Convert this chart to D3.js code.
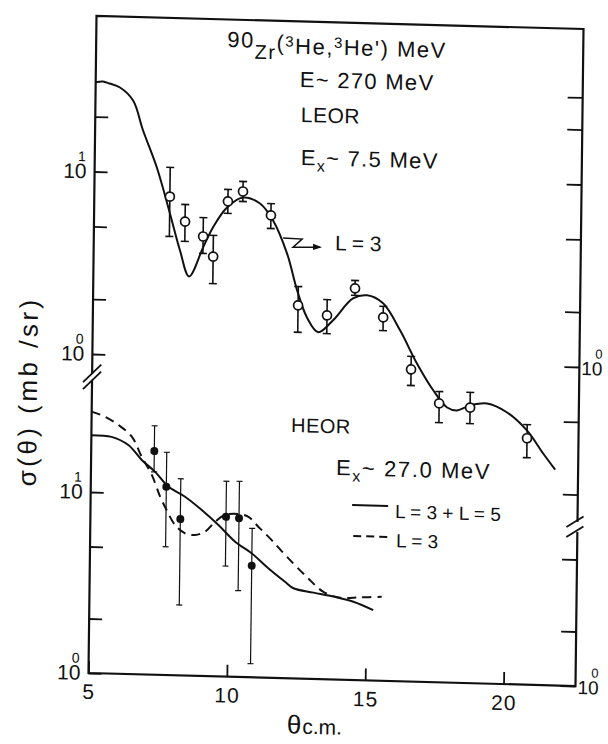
<!DOCTYPE html>
<html>
<head>
<meta charset="utf-8">
<script src="https://cdn.jsdelivr.net/npm/d3@7"></script>
<style>
body { margin: 0; background: #fff; }
text { font-family: "Liberation Sans", Arial, sans-serif; fill: #111; }
</style>
</head>
<body>
<svg id="chart"></svg>
<script>
// upper panel: LEOR, Ex ~ 7.5 MeV (open circles + L=3 fit)
var leorTheta = [7.73, 8.29, 8.95, 9.32, 9.83, 10.37, 11.39, 12.41, 13.46, 14.46, 15.49, 16.52, 17.55, 18.67, 20.74];
var leorSigma = [7.48, 5.48, 4.57, 3.56, 7.17, 8.17, 6.1, 1.98, 1.76, 2.50, 1.75, 0.916, 0.603, 0.578, 0.40];
var leorLow   = [4.52, 4.27, 3.69, 2.53, 6.17, 7.2, 5.17, 1.41, 1.40, 2.29, 1.48, 0.748, 0.473, 0.472, 0.313];
var leorHigh  = [10.8, 6.8, 5.8, 4.65, 8.34, 9.27, 7.08, 2.51, 2.15, 2.76, 2.01, 1.08, 0.70, 0.70, 0.475];

var leorFitTheta = [5.0, 5.26, 5.5, 5.88, 6.36, 6.73, 7.25, 7.74, 8.12, 8.46, 8.95, 9.30, 9.80, 10.37, 10.99, 11.47,
  11.99, 12.37, 12.74, 13.15, 13.68, 14.39, 14.90, 15.48, 16.11, 16.73, 17.33, 17.84, 18.20, 18.67, 19.28, 20.01,
  20.74, 21.33, 21.77];
var leorFitSigma = [30.8, 31.2, 30.5, 29.1, 24.8, 17.1, 10.7, 6.04, 3.80, 2.75, 3.97, 5.14, 6.64, 7.57, 7.06, 5.73,
  3.79, 2.39, 1.70, 1.42, 1.66, 2.20, 2.30, 2.09, 1.49, 0.99, 0.71, 0.574, 0.555, 0.593, 0.612, 0.55,
  0.44, 0.332, 0.272];

// lower panel: HEOR, Ex ~ 27.0 MeV (filled circles)
var heorTheta = [7.28, 7.73, 8.25, 9.90, 10.37, 10.85];
var heorSigma = [17.2, 10.97, 7.31, 7.64, 7.53, 4.14];
var heorLow   = [13.2, 5.11, 2.45, 4.08, 3.0, 1.19];
var heorHigh  = [23.7, 17.0, 12.2, 12.0, 12.05, 6.65];

// L=3 + L=5 fit
var fit35Theta = [5.0, 5.73, 6.34, 6.83, 7.32, 7.80, 8.41, 9.02, 9.63, 10.24, 10.84, 11.45, 12.06, 12.37, 13.09, 13.81, 14.54, 15.26];
var fit35Sigma = [20.6, 20.3, 18.4, 15.3, 13.2, 11.0, 9.72, 8.26, 6.86, 5.58, 4.85, 4.03, 3.41, 3.15, 3.0, 2.87, 2.71, 2.45];
// L=3 fit
var fit3Theta = [5.0, 5.48, 5.97, 6.46, 6.83, 7.20, 7.51, 7.75, 8.06, 8.43, 8.79, 9.15, 9.51, 9.86, 10.35, 10.71, 11.07,
  11.56, 12.11, 12.84, 13.45, 14.06, 14.78, 15.56];
var fit3Sigma = [27.8, 26.2, 23.7, 20.5, 15.9, 12.7, 9.66, 8.16, 6.77, 6.1, 6.0, 6.28, 7.15, 7.81, 7.94, 7.7, 6.81,
  5.77, 4.70, 3.66, 3.04, 2.84, 2.87, 2.91];

// ticks
var xTicks = [5, 10, 15, 20];
var upLeftTicks = [1, 2, 5, 10, 20];
var upRightTicks = [0.2, 0.5, 1, 2, 5, 10, 20, 30];
var loLeftTicks = [1, 2, 5, 10];
var loRightTicks = [1, 2, 5];

var W = 487, H = 657;

var svg = d3.select("#chart")
    .attr("width", 608)
    .attr("height", 744);

// the scanned frame is slightly skewed
var g = svg.append("g")
    .attr("transform", "matrix(1,0.0267,-0.0122,1,96.5,16)");

var x = d3.scaleLinear().domain([5, 22.6]).range([0, W]);
var yUp = d3.scaleLog().domain([1, 10]).range([338, 155.5]);
var yLo = d3.scaleLog().domain([1, 10]).range([H, 476]);

var ink = "#111";

// frame with axis breaks
var brkL = yUp(0.75), brkR = yUp(0.133);
g.append("path")
    .attr("d", "M0," + (brkL - 3) + "V0H" + W + "V" + (brkR - 5))
    .attr("fill", "none").attr("stroke", ink).attr("stroke-width", 2.2);
g.append("path")
    .attr("d", "M0," + (brkL + 3) + "V" + H + "H" + W + "V" + (brkR + 5))
    .attr("fill", "none").attr("stroke", ink).attr("stroke-width", 2.2);

[-3.5, 3.5].forEach(function(d) {
    g.append("line")
        .attr("x1", -9).attr("y1", brkL + d + 9)
        .attr("x2", 9).attr("y2", brkL + d - 9)
        .attr("stroke", ink).attr("stroke-width", 1.8);
});
[-5, 5].forEach(function(d) {
    g.append("line")
        .attr("x1", W - 11).attr("y1", brkR + d + 5.5)
        .attr("x2", W + 6).attr("y2", brkR + d - 5.5)
        .attr("stroke", ink).attr("stroke-width", 1.8);
});

// tick marks
function tickAxis(axis, tx) {
    var a = g.append("g").attr("transform", "translate(" + tx + ",0)").call(axis);
    a.select(".domain").remove();
    a.selectAll("line").attr("stroke", ink).attr("stroke-width", 1.8);
    a.selectAll("text").remove();
}
tickAxis(d3.axisLeft(yUp).tickValues(upLeftTicks).tickSize(-13), 0);
tickAxis(d3.axisLeft(yLo).tickValues(loLeftTicks).tickSize(-13), 0);
tickAxis(d3.axisRight(yUp).tickValues(upRightTicks).tickSize(-15), W);
tickAxis(d3.axisRight(yLo).tickValues(loRightTicks).tickSize(-15), W);

var xa = g.append("g")
    .attr("transform", "translate(0," + H + ")")
    .call(d3.axisBottom(x).tickValues(xTicks).tickSizeInner(-12).tickSizeOuter(0).tickPadding(11));
xa.select(".domain").remove();
xa.selectAll("line").attr("stroke", ink).attr("stroke-width", 1.8);
xa.selectAll("text").style("font-size", "21px").style("letter-spacing", "1px");

// power-of-ten labels
function powLabel(yp, exp, side) {
    if (side == "left") {
        g.append("text").attr("x", -8).attr("y", yp + 7)
            .attr("text-anchor", "end").style("font-size", "21px").text("10");
        g.append("text").attr("x", -9).attr("y", yp - 10)
            .attr("text-anchor", "end").style("font-size", "14px").text(exp);
    } else {
        g.append("text").attr("x", W + 2).attr("y", yp + 8)
            .style("font-size", "19px").text("10");
        g.append("text").attr("x", W + 23).attr("y", yp - 9)
            .attr("text-anchor", "end").style("font-size", "13px").text(exp);
    }
}
powLabel(yUp(10), "1", "left");
powLabel(yUp(1), "0", "left");
powLabel(yLo(10), "1", "left");
powLabel(yLo(1), "0", "left");
powLabel(yUp(1), "0", "right");
powLabel(yLo(1), "0", "right");

// axis titles
g.append("text")
    .attr("transform", "translate(-55,377) rotate(-90)")
    .attr("text-anchor", "middle")
    .style("font-size", "26px").style("letter-spacing", "3.5px")
    .text("σ(θ) (mb /sr)");

var xt = g.append("text").attr("x", 199).attr("y", 712).style("font-size", "26px");
xt.append("tspan").text("θ");
xt.append("tspan").style("font-size", "21px").attr("dx", 1).text("c.m.");

// curves
function lineFor(xs, ys, yScale) {
    return d3.line()
        .x(function(d) { return x(d[0]); })
        .y(function(d) { return yScale(d[1]); })
        .curve(d3.curveCatmullRom.alpha(0.5))(d3.zip(xs, ys));
}
g.append("path")
    .attr("d", lineFor(leorFitTheta, leorFitSigma, yUp))
    .attr("fill", "none").attr("stroke", ink).attr("stroke-width", 2);
g.append("path")
    .attr("d", lineFor(fit35Theta, fit35Sigma, yLo))
    .attr("fill", "none").attr("stroke", ink).attr("stroke-width", 2);
g.append("path")
    .attr("d", lineFor(fit3Theta, fit3Sigma, yLo))
    .attr("fill", "none").attr("stroke", ink).attr("stroke-width", 2)
    .attr("stroke-dasharray", "9,6");

// error bars + points
function errorBars(xs, lo, hi, yScale, cap, sw) {
    var eb = g.append("g").attr("stroke", ink).attr("stroke-width", sw);
    xs.forEach(function(t, i) {
        var px = x(t);
        eb.append("line").attr("x1", px).attr("x2", px)
            .attr("y1", yScale(lo[i])).attr("y2", yScale(hi[i]));
        eb.append("line").attr("x1", px - cap).attr("x2", px + cap)
            .attr("y1", yScale(lo[i])).attr("y2", yScale(lo[i]));
        eb.append("line").attr("x1", px - cap).attr("x2", px + cap)
            .attr("y1", yScale(hi[i])).attr("y2", yScale(hi[i]));
    });
}
errorBars(leorTheta, leorLow, leorHigh, yUp, 4, 1.6);
errorBars(heorTheta, heorLow, heorHigh, yLo, 3, 1.2);

g.selectAll("circle.leor")
    .data(d3.zip(leorTheta, leorSigma))
    .enter()
    .append("circle")
    .attr("class", "leor")
    .attr("cx", function(d) { return x(d[0]); })
    .attr("cy", function(d) { return yUp(d[1]); })
    .attr("r", 4.5)
    .attr("fill", "#fff").attr("stroke", ink).attr("stroke-width", 1.7);

g.selectAll("circle.heor")
    .data(d3.zip(heorTheta, heorSigma))
    .enter()
    .append("circle")
    .attr("class", "heor")
    .attr("cx", function(d) { return x(d[0]); })
    .attr("cy", function(d) { return yLo(d[1]); })
    .attr("r", 4)
    .attr("fill", ink);

// annotations
var title = g.append("text").attr("x", 131).attr("y", 32.5)
    .style("font-size", "22px").style("letter-spacing", "1.5px");
title.append("tspan").attr("dy", -5).text("90");
title.append("tspan").attr("dy", 11).style("font-size", "20px").text("Zr");
title.append("tspan").attr("dy", -9).text("(");
title.append("tspan").attr("dy", -4).style("font-size", "15px").text("3");
title.append("tspan").attr("dy", 7).text("He,");
title.append("tspan").attr("dy", -7).style("font-size", "15px").text("3");
title.append("tspan").attr("dy", 7).text("He') MeV");

g.append("text").attr("x", 204).attr("y", 65.5)
    .style("font-size", "22px").style("letter-spacing", "1.3px")
    .text("E~ 270 MeV");
g.append("text").attr("x", 205.5).attr("y", 100.5)
    .style("font-size", "21px").style("letter-spacing", "0.5px")
    .text("LEOR");
var ex1 = g.append("text").attr("x", 206).attr("y", 143.5)
    .style("font-size", "22px").style("letter-spacing", "1.3px");
ex1.append("tspan").text("E");
ex1.append("tspan").attr("dy", 6).style("font-size", "16px").text("x");
ex1.append("tspan").attr("dy", -6).text("~ 7.5 MeV");

// L = 3 arrow
var ax = x(11.84), ay = yUp(4.6);
g.append("path")
    .attr("d", "M" + ax + "," + ay + "l19,0.5l-9,8.3l27,-0.6")
    .attr("fill", "none").attr("stroke", ink).attr("stroke-width", 1.5);
g.append("path")
    .attr("d", "M" + (ax + 39) + "," + (ay + 8) + "l-9,-3.2v6.4z")
    .attr("fill", ink);
g.append("text").attr("x", ax + 52).attr("y", ay + 10.7)
    .style("font-size", "21px").text("L = 3");

g.append("text").attr("x", 199.5).attr("y", 410.7)
    .style("font-size", "20px").style("letter-spacing", "0.5px")
    .text("HEOR");
var ex2 = g.append("text").attr("x", 245).attr("y", 452.5)
    .style("font-size", "22px").style("letter-spacing", "1.6px");
ex2.append("tspan").text("E");
ex2.append("tspan").attr("dy", 6).style("font-size", "16px").text("x");
ex2.append("tspan").attr("dy", -6).text("~ 27.0 MeV");

// legend
g.append("line").attr("x1", 261.5).attr("x2", 297.5).attr("y1", 482).attr("y2", 482)
    .attr("stroke", ink).attr("stroke-width", 2);
g.append("text").attr("x", 304.5).attr("y", 494)
    .style("font-size", "19px").text("L = 3 + L = 5");
g.append("line").attr("x1", 263).attr("x2", 299).attr("y1", 513).attr("y2", 513)
    .attr("stroke", ink).attr("stroke-width", 2).attr("stroke-dasharray", "8,5");
g.append("text").attr("x", 306).attr("y", 523)
    .style("font-size", "19px").text("L = 3");
</script>
</body>
</html>
